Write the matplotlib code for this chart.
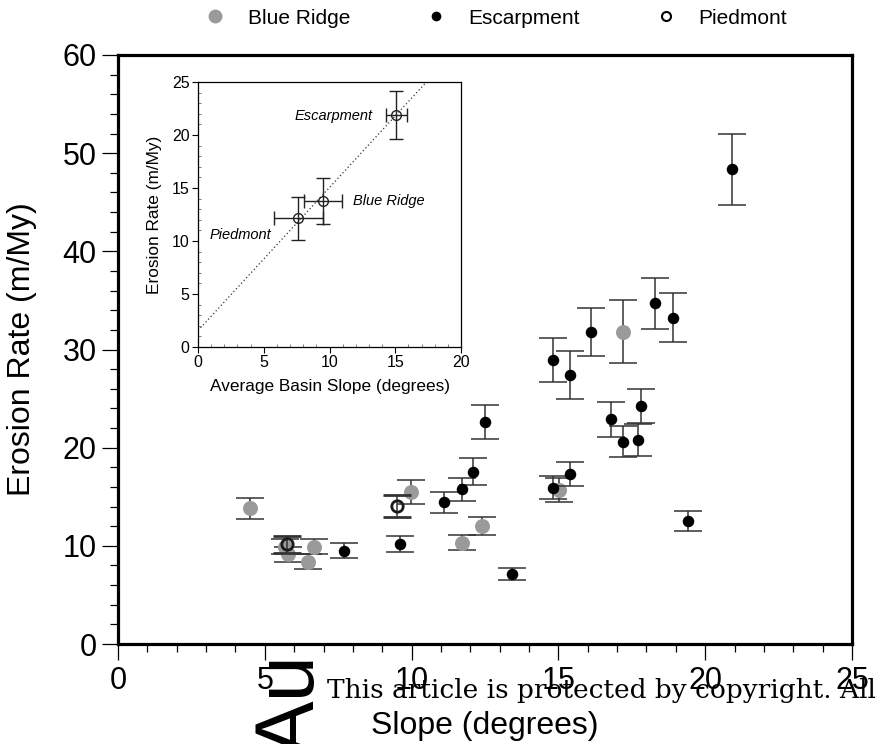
import matplotlib
matplotlib.use("Agg")
import matplotlib.pyplot as plt
import numpy as np
from matplotlib.ticker import MultipleLocator
from matplotlib.lines import Line2D

plt.rcParams['font.family'] = ['Liberation Sans', 'DejaVu Sans']

# basin slope (degrees), erosion rate (m/My), 1-sigma error
br_slope = [4.50, 5.70, 5.80, 6.48, 6.68, 9.99, 11.70, 12.39, 15.03, 17.21]
br_rate = [13.82, 9.90, 9.13, 8.38, 9.91, 15.51, 10.33, 12.02, 15.69, 31.82]
br_err = [1.10, 0.76, 0.75, 0.77, 0.76, 1.20, 0.80, 0.90, 1.20, 3.20]

esc_slope = [7.70, 9.60, 11.10, 11.70, 12.10, 12.50, 13.41, 14.80, 14.80, 15.40,
             15.40, 16.10, 16.80, 17.21, 17.70, 17.80, 18.30, 18.90, 19.40, 20.91]
esc_rate = [9.51, 10.19, 14.43, 15.76, 17.55, 22.65, 7.13, 28.93, 15.93, 27.40,
            17.32, 31.82, 22.89, 20.61, 20.78, 24.24, 34.70, 33.24, 12.53, 48.35]
esc_err = [0.78, 0.80, 1.10, 1.20, 1.40, 1.73, 0.60, 2.20, 1.20, 2.40,
           1.27, 2.45, 1.78, 1.60, 1.65, 1.73, 2.60, 2.50, 1.00, 3.60]

pied_slope = [5.75, 9.49]
pied_rate = [10.15, 14.06]
pied_err = [0.85, 1.15]

# regional averages for the inset
avg_names = ['Piedmont', 'Blue Ridge', 'Escarpment']
avg_slope = [7.63, 9.53, 15.06]
avg_slope_err = [1.88, 1.45, 0.80]
avg_rate = [12.14, 13.77, 21.89]
avg_rate_err = [2.00, 2.20, 2.25]
fit_slope, fit_icept = 1.35, 1.55

grey = '#9a9a9a'
ecol = '#333333'

fig = plt.figure(figsize=(8.76, 7.44), dpi=100)

# watermark behind the figure (only its first letters show)
fig.text(314 / 876, 1 - 756 / 744, 'Au', rotation=90,
         rotation_mode='anchor', ha='left', va='baseline', fontsize=60,
         color='black', zorder=-1)

ax = fig.add_axes([118 / 876, 1 - 644 / 744, 734 / 876, 589 / 744])

ax.errorbar(br_slope, br_rate, yerr=br_err, fmt='o', color=grey, ms=10.8,
            mec='none', ecolor=ecol, elinewidth=1.1, capsize=10, capthick=1.1,
            zorder=2)
ax.errorbar(esc_slope, esc_rate, yerr=esc_err, fmt='o', color='black', ms=8.3,
            mec='none', ecolor=ecol, elinewidth=1.1, capsize=10, capthick=1.1,
            zorder=3)
ax.errorbar(pied_slope, pied_rate, yerr=pied_err, fmt='o', mfc='none',
            mec='#1a1a1a', mew=2.0, ms=8.2, ecolor=ecol, elinewidth=1.1,
            capsize=10, capthick=1.1, zorder=4)

ax.set_xlim(0, 25)
ax.set_ylim(0, 60)
ax.xaxis.set_major_locator(MultipleLocator(5))
ax.xaxis.set_minor_locator(MultipleLocator(1))
ax.yaxis.set_major_locator(MultipleLocator(10))
ax.yaxis.set_minor_locator(MultipleLocator(2))
ax.tick_params(which='major', direction='out', length=11.5, width=0.9,
               labelsize=22, pad=4)
ax.tick_params(which='minor', direction='out', length=5.8, width=0.9)
for sp in ax.spines.values():
    sp.set_linewidth(2.3)
ax.set_xlabel('Slope (degrees)', fontsize=23, labelpad=11)
ax.set_ylabel('Erosion Rate (m/My)', fontsize=23, labelpad=18)

handles = [
    Line2D([], [], ls='none', marker='o', color=grey, mec='none', ms=10),
    Line2D([], [], ls='none', marker='o', color='black', mec='none', ms=7),
    Line2D([], [], ls='none', marker='o', mfc='none', mec='black', mew=1.5,
           ms=6.5),
]
fig.legend(handles, ['Blue Ridge', 'Escarpment', 'Piedmont'], ncol=3,
           loc='center', bbox_to_anchor=(496 / 876, 1 - 18 / 744),
           frameon=False, fontsize=15, handlelength=1.0, handletextpad=1.07,
           columnspacing=3.6)

# inset: basin averages
ins = fig.add_axes([198 / 876, 1 - 347 / 744, 263 / 876, 265 / 744])
xs = np.array([0, 20])
ins.plot(xs, fit_slope * xs + fit_icept, ls=(0, (1, 2)), color='#333333',
         lw=0.9)
ins.errorbar(avg_slope, avg_rate, xerr=avg_slope_err, yerr=avg_rate_err,
             fmt='o', mfc='none', mec='#222222', mew=1.0, ms=7,
             ecolor='#222222', elinewidth=1.0, capsize=5, capthick=1.0)
ins.text(13.3, 21.8, 'Escarpment', style='italic', fontsize=10.5,
         ha='right', va='center')
ins.text(11.77, 13.8, 'Blue Ridge', style='italic', fontsize=10.5,
         ha='left', va='center')
ins.text(0.86, 10.57, 'Piedmont', style='italic', fontsize=10.5,
         ha='left', va='center')
ins.set_xlim(0, 20)
ins.set_ylim(0, 25)
ins.xaxis.set_major_locator(MultipleLocator(5))
ins.xaxis.set_minor_locator(MultipleLocator(1))
ins.yaxis.set_major_locator(MultipleLocator(5))
ins.yaxis.set_minor_locator(MultipleLocator(1))
ins.tick_params(which='major', direction='out', length=4.5, width=0.8,
                labelsize=11.5, pad=1.5)
ins.tick_params(which='minor', direction='in', length=2.2, width=0.6,
                color='#666666')
for sp in ins.spines.values():
    sp.set_linewidth(0.9)
ins.set_xlabel('Average Basin Slope (degrees)', fontsize=12.4, labelpad=6)
ins.set_ylabel('Erosion Rate (m/My)', fontsize=12.4, labelpad=7)

fig.text(327 / 876, 1 - 698 / 744, 'This article is protected by copyright. All',
         family=['DejaVu Serif'], fontsize=19,
         va='baseline', ha='left', zorder=10)

fig.savefig('out.png', dpi=100)
